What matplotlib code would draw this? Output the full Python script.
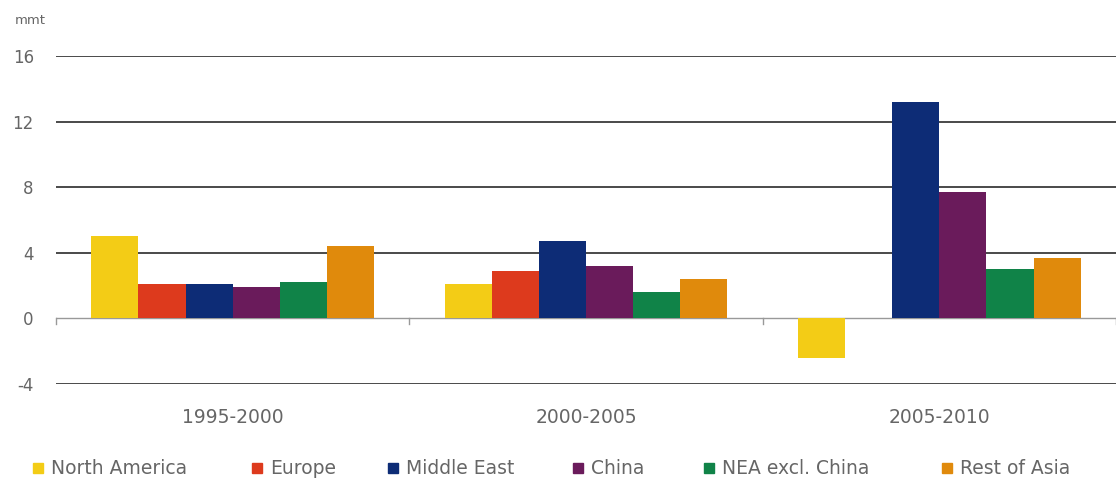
import matplotlib.pyplot as plt
from matplotlib.patches import Rectangle
import numpy as np

periods = ["1995-2000", "2000-2005", "2005-2010"]
regions = ["North America", "Europe", "Middle East", "China", "NEA excl. China", "Rest of Asia"]
north_america = [5.0, 2.1, -2.4]
europe = [2.1, 2.9, 0.0]
middle_east = [2.1, 4.7, 13.2]
china = [1.9, 3.2, 7.7]
nea_excl_china = [2.2, 1.6, 3.0]
rest_of_asia = [4.4, 2.4, 3.7]
y_ticks = [-4, 0, 4, 8, 12, 16]

series = [north_america, europe, middle_east, china, nea_excl_china, rest_of_asia]
colors = ["#F3CC16", "#DD3A1D", "#0D2C76", "#6A1B5B", "#108348", "#E08A0C"]
txt = "#666666"

W, H = 1116, 494
fig = plt.figure(figsize=(W / 100, H / 100), dpi=100)
ax = fig.add_axes([56 / W, 1 - 384 / H, 1 - 56 / W, (384 - 56) / H])

x = np.arange(len(periods))
n = len(series)
width = 0.8 / n
for i, (vals, c) in enumerate(zip(series, colors)):
    ax.bar(x - 0.4 + width * (i + 0.5), vals, width, color=c, label=regions[i], zorder=3)

ax.set_xlim(-0.5, len(periods) - 0.5)
ax.set_ylim(-4, 16)
ax.set_yticks(y_ticks)
ax.set_yticklabels([str(t) for t in y_ticks], color=txt, fontsize=12)
for t in y_ticks:
    if t != 0:
        ax.axhline(t, color="#4a4a4a", lw=1.4, zorder=1)
ax.axhline(0, color="#999999", lw=1.0, zorder=2)
# small ticks under the zero line between groups
for b in np.arange(-0.5, len(periods) + 0.5, 1):
    ax.plot([b, b], [0, -0.35], color="#999999", lw=1.0, zorder=2, clip_on=False)

ax.set_xticks([])
ax.tick_params(axis="y", length=0, pad=16)
for s in ax.spines.values():
    s.set_visible(False)

for xi, p in zip(x, periods):
    ax.text(xi, -6.05, p, ha="center", va="center", fontsize=13.5, color=txt)

fig.text(15 / W, 1 - 21 / H, "mmt", fontsize=9.5, color=txt, ha="left", va="center")

# legend laid out like the original, squares at fixed x positions
leg_x = [33, 252, 388, 573, 704, 942]
for lx, name, c in zip(leg_x, regions, colors):
    fig.patches.append(Rectangle((lx / W, 1 - 473 / H), 10 / W, 10 / H, color=c,
                                 transform=fig.transFigure, figure=fig))
    fig.text((lx + 18) / W, 1 - 468 / H, name, fontsize=13.5, color=txt, ha="left", va="center")

fig.savefig("out.png", dpi=100)
